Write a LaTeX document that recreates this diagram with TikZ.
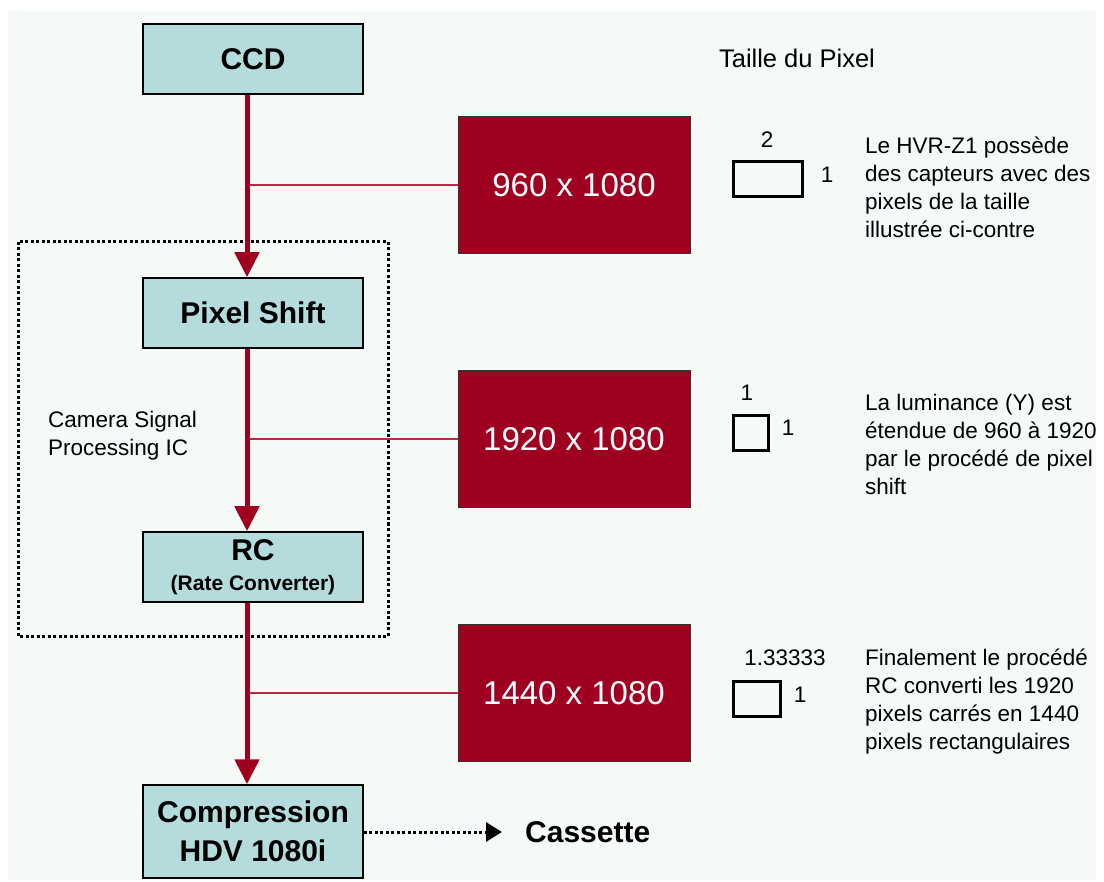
\documentclass[tikz,border=0pt]{standalone}
\usepackage{fontspec}
\setmainfont{Liberation Sans}
\usetikzlibrary{arrows.meta}
\definecolor{panel}{RGB}{245,250,247}
\definecolor{teal}{RGB}{180,220,220}
\definecolor{crimson}{RGB}{160,0,32}
\definecolor{branchc}{RGB}{190,40,70}
\tikzset{
  stage/.style={draw=black, line width=1.5pt, fill=teal, minimum width=220pt, minimum height=70pt,
    inner sep=0pt, align=center, font=\fontsize{30}{35}\selectfont\bfseries},
  resbox/.style={draw=black!80, line width=1pt, fill=crimson, minimum width=232pt, minimum height=137pt,
    inner sep=0pt, text=white, font=\fontsize{33}{38}\selectfont},
  flow/.style={draw=crimson, line width=5pt, -{Triangle[length=25pt,width=24pt]}},
  branch/.style={draw=branchc, line width=2pt},
  pix/.style={draw=black, line width=3pt, inner sep=0pt},
  small/.style={font=\fontsize{22.5}{28}\selectfont, inner sep=0pt},
  note/.style={small, align=left, anchor=north west},
}
\begin{document}
\begin{tikzpicture}[x=1pt,y=-1pt]
\useasboundingbox (0,0) rectangle (1104,882);
\fill[panel] (8,10) rectangle (1096,880);

% dotted IC frame
\draw[line width=3pt, dash pattern=on 3pt off 2.5pt] (18,242) rectangle (388,636);
\node[small, align=left, anchor=north west] (ic) at (48,411) {Camera Signal\\Processing IC};

% stages
\node[stage] (ccd) at (253,59) {CCD};
\node[stage] (ps) at (253,313) {Pixel Shift};
\node[stage] (rc) at (253,567) {RC\\[-5pt]{\fontsize{21}{24}\selectfont(Rate Converter)}};
\node[stage, minimum height=93pt, font=\fontsize{30}{39}\selectfont\bfseries] (comp) at (253,831.5) {Compression\\HDV 1080i};

% resolution boxes
\node[resbox] (r1) at (574,185) {960 x 1080};
\node[resbox] (r2) at (574,439) {1920 x 1080};
\node[resbox] (r3) at (574,693) {1440 x 1080};

% branches
\coordinate (b1) at (247,185);
\coordinate (b2) at (247,439);
\coordinate (b3) at (247,693);
\draw[branch] (b1) -- (r1.west);
\draw[branch] (b2) -- (r2.west);
\draw[branch] (b3) -- (r3.west);

% main flow
\draw[flow] (ccd.south -| b1) -- (ps.north -| b1);
\draw[flow] (ps.south -| b2) -- (rc.north -| b2);
\draw[flow] (rc.south -| b3) -- (comp.north -| b3);

% cassette
\node[font=\fontsize{30}{34}\selectfont\bfseries, anchor=west, inner sep=0pt] (cas) at (525,832) {Cassette};
\coordinate (casin) at (502,832);
\draw[line width=3pt, dash pattern=on 3pt off 2.5pt, -{Triangle[length=16pt,width=19pt]}] (comp.east |- casin) -- (casin);

% pixel size column
\node[font=\fontsize{25.5}{30}\selectfont, inner sep=0pt] (title) at (797,58) {Taille du Pixel};

\node[pix, minimum width=69pt, minimum height=35pt] (p1) at (767.5,179.5) {};
\node[small] (p1w) at (767,140) {2};
\node[small] (p1h) at (827,175) {1};

\node[pix, minimum width=35pt, minimum height=35pt] (p2) at (750.5,433.5) {};
\node[small] (p2w) at (747,393) {1};
\node[small] (p2h) at (788,428) {1};

\node[pix, minimum width=47pt, minimum height=35pt] (p3) at (756.5,698.5) {};
\node[small] (p3w) at (785,658) {1.33333};
\node[small] (p3h) at (800,695) {1};

\node[note] (n1) at (865,137) {Le HVR-Z1 possède\\des capteurs avec des\\pixels de la taille\\illustrée ci-contre};
\node[note] (n2) at (865,394) {La luminance (Y) est\\étendue de 960 à 1920\\par le procédé de pixel\\shift};
\node[note] (n3) at (865,649) {Finalement le procédé\\RC converti les 1920\\pixels carrés en 1440\\pixels rectangulaires};
\end{tikzpicture}
\end{document}
